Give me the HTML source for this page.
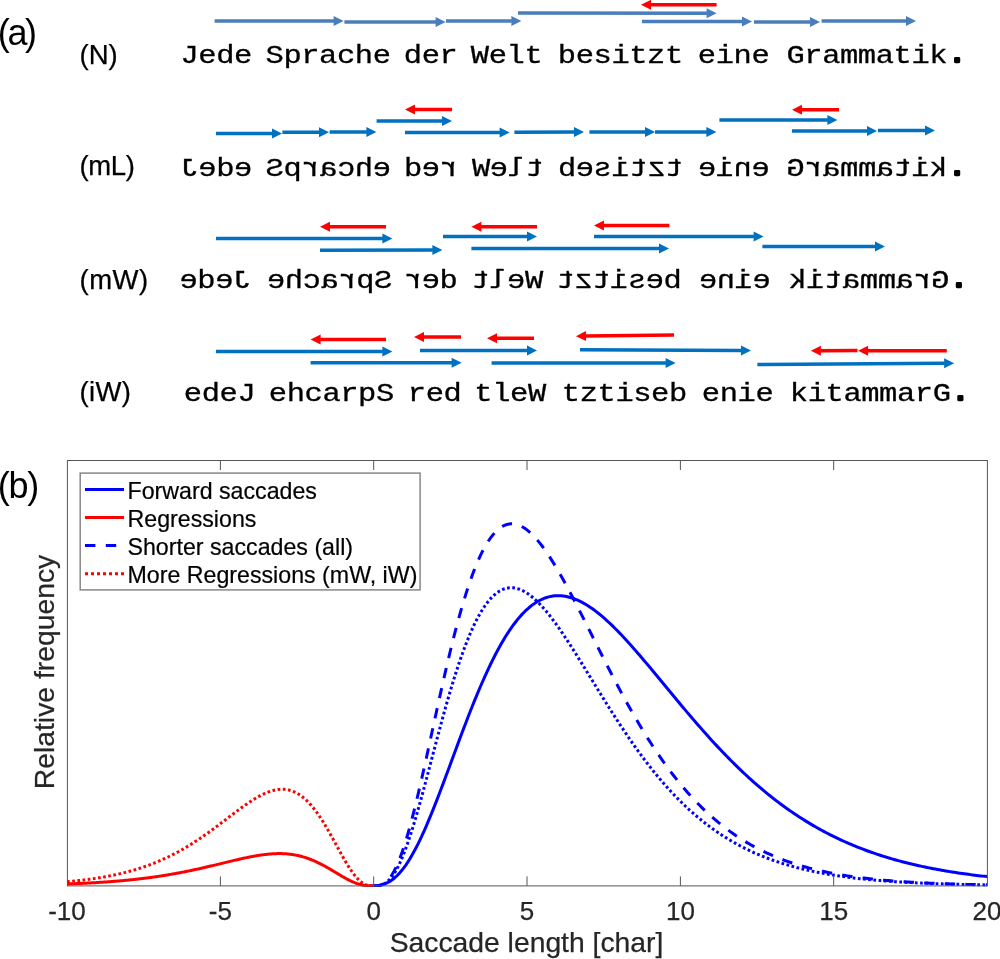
<!DOCTYPE html>
<html><head><meta charset="utf-8"><title>Figure</title>
<style>html,body{margin:0;padding:0;background:#fff;}body{width:1000px;height:959px;overflow:hidden;}svg{display:block;}</style>
</head><body>
<svg width="1000" height="959" viewBox="0 0 1000 959">
<rect width="1000" height="959" fill="#fff"/>
<line x1="214.6" y1="21.0" x2="334.1" y2="21.0" stroke="#4A7EBB" stroke-width="3.5"/><polygon points="343.6,21.0 333.6,26.0 333.6,16.0" fill="#4A7EBB"/>
<line x1="344.4" y1="22.0" x2="436.1" y2="22.0" stroke="#4A7EBB" stroke-width="3.5"/><polygon points="445.6,22.0 435.6,27.0 435.6,17.0" fill="#4A7EBB"/>
<line x1="446.0" y1="21.0" x2="511.9" y2="21.0" stroke="#4A7EBB" stroke-width="3.5"/><polygon points="521.4,21.0 511.4,26.0 511.4,16.0" fill="#4A7EBB"/>
<line x1="518.0" y1="13.0" x2="707.1" y2="13.2" stroke="#4A7EBB" stroke-width="3.5"/><polygon points="716.6,13.2 706.6,18.2 706.6,8.2" fill="#4A7EBB"/>
<line x1="716.6" y1="4.8" x2="650.5" y2="4.8" stroke="#FF0000" stroke-width="3.5"/><polygon points="641.0,4.8 651.0,-0.2 651.0,9.8" fill="#FF0000"/>
<line x1="642.0" y1="21.6" x2="742.5" y2="21.6" stroke="#4A7EBB" stroke-width="3.5"/><polygon points="752.0,21.6 742.0,26.6 742.0,16.6" fill="#4A7EBB"/>
<line x1="754.0" y1="22.0" x2="810.5" y2="22.0" stroke="#4A7EBB" stroke-width="3.5"/><polygon points="820.0,22.0 810.0,27.0 810.0,17.0" fill="#4A7EBB"/>
<line x1="821.6" y1="21.0" x2="906.5" y2="21.0" stroke="#4A7EBB" stroke-width="3.5"/><polygon points="916.0,21.0 906.0,26.0 906.0,16.0" fill="#4A7EBB"/>
<line x1="216.0" y1="133.6" x2="272.5" y2="133.6" stroke="#0070C0" stroke-width="3.5"/><polygon points="282.0,133.6 272.0,138.6 272.0,128.6" fill="#0070C0"/>
<line x1="282.4" y1="132.2" x2="319.5" y2="132.2" stroke="#0070C0" stroke-width="3.5"/><polygon points="329.0,132.2 319.0,137.2 319.0,127.2" fill="#0070C0"/>
<line x1="329.6" y1="132.0" x2="366.9" y2="132.0" stroke="#0070C0" stroke-width="3.5"/><polygon points="376.4,132.0 366.4,137.0 366.4,127.0" fill="#0070C0"/>
<line x1="376.6" y1="121.0" x2="442.5" y2="121.0" stroke="#0070C0" stroke-width="3.5"/><polygon points="452.0,121.0 442.0,126.0 442.0,116.0" fill="#0070C0"/>
<line x1="452.0" y1="109.6" x2="414.5" y2="109.6" stroke="#FF0000" stroke-width="3.5"/><polygon points="405.0,109.6 415.0,104.6 415.0,114.6" fill="#FF0000"/>
<line x1="405.0" y1="132.6" x2="500.1" y2="132.6" stroke="#0070C0" stroke-width="3.5"/><polygon points="509.6,132.6 499.6,137.6 499.6,127.6" fill="#0070C0"/>
<line x1="514.4" y1="132.2" x2="574.5" y2="132.0" stroke="#0070C0" stroke-width="3.5"/><polygon points="584.0,132.0 574.0,137.0 574.0,127.0" fill="#0070C0"/>
<line x1="589.4" y1="132.0" x2="645.5" y2="132.0" stroke="#0070C0" stroke-width="3.5"/><polygon points="655.0,132.0 645.0,137.0 645.0,127.0" fill="#0070C0"/>
<line x1="655.0" y1="132.0" x2="706.9" y2="132.0" stroke="#0070C0" stroke-width="3.5"/><polygon points="716.4,132.0 706.4,137.0 706.4,127.0" fill="#0070C0"/>
<line x1="719.4" y1="120.0" x2="827.9" y2="120.0" stroke="#0070C0" stroke-width="3.5"/><polygon points="837.4,120.0 827.4,125.0 827.4,115.0" fill="#0070C0"/>
<line x1="839.0" y1="109.8" x2="801.5" y2="109.8" stroke="#FF0000" stroke-width="3.5"/><polygon points="792.0,109.8 802.0,104.8 802.0,114.8" fill="#FF0000"/>
<line x1="792.0" y1="131.0" x2="867.5" y2="131.0" stroke="#0070C0" stroke-width="3.5"/><polygon points="877.0,131.0 867.0,136.0 867.0,126.0" fill="#0070C0"/>
<line x1="878.0" y1="130.6" x2="925.5" y2="130.6" stroke="#0070C0" stroke-width="3.5"/><polygon points="935.0,130.6 925.0,135.6 925.0,125.6" fill="#0070C0"/>
<line x1="216.0" y1="238.6" x2="382.9" y2="238.6" stroke="#0070C0" stroke-width="3.5"/><polygon points="392.4,238.6 382.4,243.6 382.4,233.6" fill="#0070C0"/>
<line x1="386.0" y1="226.8" x2="329.5" y2="226.8" stroke="#FF0000" stroke-width="3.5"/><polygon points="320.0,226.8 330.0,221.8 330.0,231.8" fill="#FF0000"/>
<line x1="320.0" y1="250.2" x2="432.9" y2="250.0" stroke="#0070C0" stroke-width="3.5"/><polygon points="442.4,250.0 432.4,255.0 432.4,245.0" fill="#0070C0"/>
<line x1="443.0" y1="236.6" x2="527.5" y2="236.6" stroke="#0070C0" stroke-width="3.5"/><polygon points="537.0,236.6 527.0,241.6 527.0,231.6" fill="#0070C0"/>
<line x1="537.0" y1="226.8" x2="480.9" y2="226.8" stroke="#FF0000" stroke-width="3.5"/><polygon points="471.4,226.8 481.4,221.8 481.4,231.8" fill="#FF0000"/>
<line x1="471.4" y1="248.4" x2="659.5" y2="248.4" stroke="#0070C0" stroke-width="3.5"/><polygon points="669.0,248.4 659.0,253.4 659.0,243.4" fill="#0070C0"/>
<line x1="669.4" y1="225.4" x2="603.5" y2="225.4" stroke="#FF0000" stroke-width="3.5"/><polygon points="594.0,225.4 604.0,220.4 604.0,230.4" fill="#FF0000"/>
<line x1="594.0" y1="236.6" x2="754.1" y2="236.6" stroke="#0070C0" stroke-width="3.5"/><polygon points="763.6,236.6 753.6,241.6 753.6,231.6" fill="#0070C0"/>
<line x1="762.4" y1="246.6" x2="875.5" y2="246.6" stroke="#0070C0" stroke-width="3.5"/><polygon points="885.0,246.6 875.0,251.6 875.0,241.6" fill="#0070C0"/>
<line x1="216.0" y1="351.6" x2="382.9" y2="351.6" stroke="#0070C0" stroke-width="3.5"/><polygon points="392.4,351.6 382.4,356.6 382.4,346.6" fill="#0070C0"/>
<line x1="386.0" y1="339.4" x2="320.1" y2="339.4" stroke="#FF0000" stroke-width="3.5"/><polygon points="310.6,339.4 320.6,334.4 320.6,344.4" fill="#FF0000"/>
<line x1="310.6" y1="362.8" x2="452.1" y2="362.8" stroke="#0070C0" stroke-width="3.5"/><polygon points="461.6,362.8 451.6,367.8 451.6,357.8" fill="#0070C0"/>
<line x1="461.0" y1="337.0" x2="423.5" y2="337.0" stroke="#FF0000" stroke-width="3.5"/><polygon points="414.0,337.0 424.0,332.0 424.0,342.0" fill="#FF0000"/>
<line x1="420.0" y1="350.6" x2="527.5" y2="350.6" stroke="#0070C0" stroke-width="3.5"/><polygon points="537.0,350.6 527.0,355.6 527.0,345.6" fill="#0070C0"/>
<line x1="534.0" y1="338.2" x2="496.5" y2="338.2" stroke="#FF0000" stroke-width="3.5"/><polygon points="487.0,338.2 497.0,333.2 497.0,343.2" fill="#FF0000"/>
<line x1="491.6" y1="363.0" x2="666.1" y2="363.0" stroke="#0070C0" stroke-width="3.5"/><polygon points="675.6,363.0 665.6,368.0 665.6,358.0" fill="#0070C0"/>
<line x1="674.0" y1="335.0" x2="585.5" y2="336.1" stroke="#FF0000" stroke-width="3.5"/><polygon points="576.0,336.2 585.9,331.1 586.1,341.1" fill="#FF0000"/>
<line x1="580.0" y1="349.8" x2="741.5" y2="350.6" stroke="#0070C0" stroke-width="3.5"/><polygon points="751.0,350.6 741.0,355.6 741.0,345.6" fill="#0070C0"/>
<line x1="757.4" y1="364.5" x2="944.6" y2="363.3" stroke="#0070C0" stroke-width="3.5"/><polygon points="954.1,363.2 944.1,368.3 944.1,358.3" fill="#0070C0"/>
<line x1="946.8" y1="350.8" x2="867.6" y2="350.8" stroke="#FF0000" stroke-width="3.5"/><polygon points="858.1,350.8 868.1,345.8 868.1,355.8" fill="#FF0000"/>
<line x1="857.5" y1="350.6" x2="820.4" y2="350.8" stroke="#FF0000" stroke-width="3.5"/><polygon points="810.9,350.8 820.9,345.8 820.9,355.8" fill="#FF0000"/>
<g font-family="Liberation Mono, monospace" font-size="25.8" fill="#000" stroke="#000" stroke-width="0.3"><text x="0" y="0" text-anchor="middle" transform="matrix(1.18,0,0,1,189.60,63.3)">J</text><text x="0" y="0" text-anchor="middle" transform="matrix(1.18,0,0,1,207.45,63.3)">e</text><text x="0" y="0" text-anchor="middle" transform="matrix(1.18,0,0,1,225.30,63.3)">d</text><text x="0" y="0" text-anchor="middle" transform="matrix(1.18,0,0,1,243.15,63.3)">e</text><text x="0" y="0" text-anchor="middle" transform="matrix(1.18,0,0,1,274.70,63.3)">S</text><text x="0" y="0" text-anchor="middle" transform="matrix(1.18,0,0,1,292.55,63.3)">p</text><text x="0" y="0" text-anchor="middle" transform="matrix(1.18,0,0,1,310.40,63.3)">r</text><text x="0" y="0" text-anchor="middle" transform="matrix(1.18,0,0,1,328.25,63.3)">a</text><text x="0" y="0" text-anchor="middle" transform="matrix(1.18,0,0,1,346.10,63.3)">c</text><text x="0" y="0" text-anchor="middle" transform="matrix(1.18,0,0,1,363.95,63.3)">h</text><text x="0" y="0" text-anchor="middle" transform="matrix(1.18,0,0,1,381.80,63.3)">e</text><text x="0" y="0" text-anchor="middle" transform="matrix(1.18,0,0,1,413.00,63.3)">d</text><text x="0" y="0" text-anchor="middle" transform="matrix(1.18,0,0,1,430.85,63.3)">e</text><text x="0" y="0" text-anchor="middle" transform="matrix(1.18,0,0,1,448.70,63.3)">r</text><text x="0" y="0" text-anchor="middle" transform="matrix(1.18,0,0,1,480.00,63.3)">W</text><text x="0" y="0" text-anchor="middle" transform="matrix(1.18,0,0,1,497.85,63.3)">e</text><text x="0" y="0" text-anchor="middle" transform="matrix(1.18,0,0,1,515.70,63.3)">l</text><text x="0" y="0" text-anchor="middle" transform="matrix(1.18,0,0,1,533.55,63.3)">t</text><text x="0" y="0" text-anchor="middle" transform="matrix(1.18,0,0,1,567.00,63.3)">b</text><text x="0" y="0" text-anchor="middle" transform="matrix(1.18,0,0,1,584.85,63.3)">e</text><text x="0" y="0" text-anchor="middle" transform="matrix(1.18,0,0,1,602.70,63.3)">s</text><text x="0" y="0" text-anchor="middle" transform="matrix(1.18,0,0,1,620.55,63.3)">i</text><text x="0" y="0" text-anchor="middle" transform="matrix(1.18,0,0,1,638.40,63.3)">t</text><text x="0" y="0" text-anchor="middle" transform="matrix(1.18,0,0,1,656.25,63.3)">z</text><text x="0" y="0" text-anchor="middle" transform="matrix(1.18,0,0,1,674.10,63.3)">t</text><text x="0" y="0" text-anchor="middle" transform="matrix(1.18,0,0,1,707.00,63.3)">e</text><text x="0" y="0" text-anchor="middle" transform="matrix(1.18,0,0,1,724.85,63.3)">i</text><text x="0" y="0" text-anchor="middle" transform="matrix(1.18,0,0,1,742.70,63.3)">n</text><text x="0" y="0" text-anchor="middle" transform="matrix(1.18,0,0,1,760.55,63.3)">e</text><text x="0" y="0" text-anchor="middle" transform="matrix(1.18,0,0,1,795.60,63.3)">G</text><text x="0" y="0" text-anchor="middle" transform="matrix(1.18,0,0,1,813.45,63.3)">r</text><text x="0" y="0" text-anchor="middle" transform="matrix(1.18,0,0,1,831.30,63.3)">a</text><text x="0" y="0" text-anchor="middle" transform="matrix(1.18,0,0,1,849.15,63.3)">m</text><text x="0" y="0" text-anchor="middle" transform="matrix(1.18,0,0,1,867.00,63.3)">m</text><text x="0" y="0" text-anchor="middle" transform="matrix(1.18,0,0,1,884.85,63.3)">a</text><text x="0" y="0" text-anchor="middle" transform="matrix(1.18,0,0,1,902.70,63.3)">t</text><text x="0" y="0" text-anchor="middle" transform="matrix(1.18,0,0,1,920.55,63.3)">i</text><text x="0" y="0" text-anchor="middle" transform="matrix(1.18,0,0,1,938.40,63.3)">k</text><text x="0" y="0" text-anchor="middle" stroke-width="2.3" stroke-linejoin="round" transform="matrix(1.180,0,0,1.0,957.05,62.10)">.</text></g>
<g font-family="Liberation Mono, monospace" font-size="25.8" fill="#000" stroke="#000" stroke-width="0.3"><text x="0" y="0" text-anchor="middle" transform="matrix(-1.18,0,0,1,189.60,176.0)">J</text><text x="0" y="0" text-anchor="middle" transform="matrix(-1.18,0,0,1,207.45,176.0)">e</text><text x="0" y="0" text-anchor="middle" transform="matrix(-1.18,0,0,1,225.30,176.0)">d</text><text x="0" y="0" text-anchor="middle" transform="matrix(-1.18,0,0,1,243.15,176.0)">e</text><text x="0" y="0" text-anchor="middle" transform="matrix(-1.18,0,0,1,274.70,176.0)">S</text><text x="0" y="0" text-anchor="middle" transform="matrix(-1.18,0,0,1,292.55,176.0)">p</text><text x="0" y="0" text-anchor="middle" transform="matrix(-1.18,0,0,1,310.40,176.0)">r</text><text x="0" y="0" text-anchor="middle" transform="matrix(-1.18,0,0,1,328.25,176.0)">a</text><text x="0" y="0" text-anchor="middle" transform="matrix(-1.18,0,0,1,346.10,176.0)">c</text><text x="0" y="0" text-anchor="middle" transform="matrix(-1.18,0,0,1,363.95,176.0)">h</text><text x="0" y="0" text-anchor="middle" transform="matrix(-1.18,0,0,1,381.80,176.0)">e</text><text x="0" y="0" text-anchor="middle" transform="matrix(-1.18,0,0,1,413.00,176.0)">d</text><text x="0" y="0" text-anchor="middle" transform="matrix(-1.18,0,0,1,430.85,176.0)">e</text><text x="0" y="0" text-anchor="middle" transform="matrix(-1.18,0,0,1,448.70,176.0)">r</text><text x="0" y="0" text-anchor="middle" transform="matrix(-1.18,0,0,1,481.00,176.0)">W</text><text x="0" y="0" text-anchor="middle" transform="matrix(-1.18,0,0,1,498.85,176.0)">e</text><text x="0" y="0" text-anchor="middle" transform="matrix(-1.18,0,0,1,516.70,176.0)">l</text><text x="0" y="0" text-anchor="middle" transform="matrix(-1.18,0,0,1,534.55,176.0)">t</text><text x="0" y="0" text-anchor="middle" transform="matrix(-1.18,0,0,1,567.00,176.0)">b</text><text x="0" y="0" text-anchor="middle" transform="matrix(-1.18,0,0,1,584.85,176.0)">e</text><text x="0" y="0" text-anchor="middle" transform="matrix(-1.18,0,0,1,602.70,176.0)">s</text><text x="0" y="0" text-anchor="middle" transform="matrix(-1.18,0,0,1,620.55,176.0)">i</text><text x="0" y="0" text-anchor="middle" transform="matrix(-1.18,0,0,1,638.40,176.0)">t</text><text x="0" y="0" text-anchor="middle" transform="matrix(-1.18,0,0,1,656.25,176.0)">z</text><text x="0" y="0" text-anchor="middle" transform="matrix(-1.18,0,0,1,674.10,176.0)">t</text><text x="0" y="0" text-anchor="middle" transform="matrix(-1.18,0,0,1,707.00,176.0)">e</text><text x="0" y="0" text-anchor="middle" transform="matrix(-1.18,0,0,1,724.85,176.0)">i</text><text x="0" y="0" text-anchor="middle" transform="matrix(-1.18,0,0,1,742.70,176.0)">n</text><text x="0" y="0" text-anchor="middle" transform="matrix(-1.18,0,0,1,760.55,176.0)">e</text><text x="0" y="0" text-anchor="middle" transform="matrix(-1.18,0,0,1,795.60,176.0)">G</text><text x="0" y="0" text-anchor="middle" transform="matrix(-1.18,0,0,1,813.45,176.0)">r</text><text x="0" y="0" text-anchor="middle" transform="matrix(-1.18,0,0,1,831.30,176.0)">a</text><text x="0" y="0" text-anchor="middle" transform="matrix(-1.18,0,0,1,849.15,176.0)">m</text><text x="0" y="0" text-anchor="middle" transform="matrix(-1.18,0,0,1,867.00,176.0)">m</text><text x="0" y="0" text-anchor="middle" transform="matrix(-1.18,0,0,1,884.85,176.0)">a</text><text x="0" y="0" text-anchor="middle" transform="matrix(-1.18,0,0,1,902.70,176.0)">t</text><text x="0" y="0" text-anchor="middle" transform="matrix(-1.18,0,0,1,920.55,176.0)">i</text><text x="0" y="0" text-anchor="middle" transform="matrix(-1.18,0,0,1,938.40,176.0)">k</text><text x="0" y="0" text-anchor="middle" stroke-width="2.3" stroke-linejoin="round" transform="matrix(1.180,0,0,1.0,957.05,174.80)">.</text></g>
<g font-family="Liberation Mono, monospace" font-size="25.8" fill="#000" stroke="#000" stroke-width="0.3"><text x="0" y="0" text-anchor="middle" transform="matrix(-1.18,0,0,1,188.60,287.7)">e</text><text x="0" y="0" text-anchor="middle" transform="matrix(-1.18,0,0,1,206.45,287.7)">d</text><text x="0" y="0" text-anchor="middle" transform="matrix(-1.18,0,0,1,224.30,287.7)">e</text><text x="0" y="0" text-anchor="middle" transform="matrix(-1.18,0,0,1,242.15,287.7)">J</text><text x="0" y="0" text-anchor="middle" transform="matrix(-1.18,0,0,1,276.00,287.7)">e</text><text x="0" y="0" text-anchor="middle" transform="matrix(-1.18,0,0,1,293.85,287.7)">h</text><text x="0" y="0" text-anchor="middle" transform="matrix(-1.18,0,0,1,311.70,287.7)">c</text><text x="0" y="0" text-anchor="middle" transform="matrix(-1.18,0,0,1,329.55,287.7)">a</text><text x="0" y="0" text-anchor="middle" transform="matrix(-1.18,0,0,1,347.40,287.7)">r</text><text x="0" y="0" text-anchor="middle" transform="matrix(-1.18,0,0,1,365.25,287.7)">p</text><text x="0" y="0" text-anchor="middle" transform="matrix(-1.18,0,0,1,383.10,287.7)">S</text><text x="0" y="0" text-anchor="middle" transform="matrix(-1.18,0,0,1,413.00,287.7)">r</text><text x="0" y="0" text-anchor="middle" transform="matrix(-1.18,0,0,1,430.85,287.7)">e</text><text x="0" y="0" text-anchor="middle" transform="matrix(-1.18,0,0,1,448.70,287.7)">d</text><text x="0" y="0" text-anchor="middle" transform="matrix(-1.18,0,0,1,480.50,287.7)">t</text><text x="0" y="0" text-anchor="middle" transform="matrix(-1.18,0,0,1,498.35,287.7)">l</text><text x="0" y="0" text-anchor="middle" transform="matrix(-1.18,0,0,1,516.20,287.7)">e</text><text x="0" y="0" text-anchor="middle" transform="matrix(-1.18,0,0,1,534.05,287.7)">W</text><text x="0" y="0" text-anchor="middle" transform="matrix(-1.18,0,0,1,565.60,287.7)">t</text><text x="0" y="0" text-anchor="middle" transform="matrix(-1.18,0,0,1,583.45,287.7)">z</text><text x="0" y="0" text-anchor="middle" transform="matrix(-1.18,0,0,1,601.30,287.7)">t</text><text x="0" y="0" text-anchor="middle" transform="matrix(-1.18,0,0,1,619.15,287.7)">i</text><text x="0" y="0" text-anchor="middle" transform="matrix(-1.18,0,0,1,637.00,287.7)">s</text><text x="0" y="0" text-anchor="middle" transform="matrix(-1.18,0,0,1,654.85,287.7)">e</text><text x="0" y="0" text-anchor="middle" transform="matrix(-1.18,0,0,1,672.70,287.7)">b</text><text x="0" y="0" text-anchor="middle" transform="matrix(-1.18,0,0,1,708.00,287.7)">e</text><text x="0" y="0" text-anchor="middle" transform="matrix(-1.18,0,0,1,725.85,287.7)">n</text><text x="0" y="0" text-anchor="middle" transform="matrix(-1.18,0,0,1,743.70,287.7)">i</text><text x="0" y="0" text-anchor="middle" transform="matrix(-1.18,0,0,1,761.55,287.7)">e</text><text x="0" y="0" text-anchor="middle" transform="matrix(-1.18,0,0,1,797.50,287.7)">k</text><text x="0" y="0" text-anchor="middle" transform="matrix(-1.18,0,0,1,815.35,287.7)">i</text><text x="0" y="0" text-anchor="middle" transform="matrix(-1.18,0,0,1,833.20,287.7)">t</text><text x="0" y="0" text-anchor="middle" transform="matrix(-1.18,0,0,1,851.05,287.7)">a</text><text x="0" y="0" text-anchor="middle" transform="matrix(-1.18,0,0,1,868.90,287.7)">m</text><text x="0" y="0" text-anchor="middle" transform="matrix(-1.18,0,0,1,886.75,287.7)">m</text><text x="0" y="0" text-anchor="middle" transform="matrix(-1.18,0,0,1,904.60,287.7)">a</text><text x="0" y="0" text-anchor="middle" transform="matrix(-1.18,0,0,1,922.45,287.7)">r</text><text x="0" y="0" text-anchor="middle" transform="matrix(-1.18,0,0,1,940.30,287.7)">G</text><text x="0" y="0" text-anchor="middle" stroke-width="2.3" stroke-linejoin="round" transform="matrix(1.180,0,0,1.0,958.95,286.50)">.</text></g>
<g font-family="Liberation Mono, monospace" font-size="25.8" fill="#000" stroke="#000" stroke-width="0.3"><text x="0" y="0" text-anchor="middle" transform="matrix(1.18,0,0,1,193.00,401.0)">e</text><text x="0" y="0" text-anchor="middle" transform="matrix(1.18,0,0,1,210.85,401.0)">d</text><text x="0" y="0" text-anchor="middle" transform="matrix(1.18,0,0,1,228.70,401.0)">e</text><text x="0" y="0" text-anchor="middle" transform="matrix(1.18,0,0,1,246.55,401.0)">J</text><text x="0" y="0" text-anchor="middle" transform="matrix(1.18,0,0,1,278.00,401.0)">e</text><text x="0" y="0" text-anchor="middle" transform="matrix(1.18,0,0,1,295.85,401.0)">h</text><text x="0" y="0" text-anchor="middle" transform="matrix(1.18,0,0,1,313.70,401.0)">c</text><text x="0" y="0" text-anchor="middle" transform="matrix(1.18,0,0,1,331.55,401.0)">a</text><text x="0" y="0" text-anchor="middle" transform="matrix(1.18,0,0,1,349.40,401.0)">r</text><text x="0" y="0" text-anchor="middle" transform="matrix(1.18,0,0,1,367.25,401.0)">p</text><text x="0" y="0" text-anchor="middle" transform="matrix(1.18,0,0,1,385.10,401.0)">S</text><text x="0" y="0" text-anchor="middle" transform="matrix(1.18,0,0,1,417.00,401.0)">r</text><text x="0" y="0" text-anchor="middle" transform="matrix(1.18,0,0,1,434.85,401.0)">e</text><text x="0" y="0" text-anchor="middle" transform="matrix(1.18,0,0,1,452.70,401.0)">d</text><text x="0" y="0" text-anchor="middle" transform="matrix(1.18,0,0,1,483.50,401.0)">t</text><text x="0" y="0" text-anchor="middle" transform="matrix(1.18,0,0,1,501.35,401.0)">l</text><text x="0" y="0" text-anchor="middle" transform="matrix(1.18,0,0,1,519.20,401.0)">e</text><text x="0" y="0" text-anchor="middle" transform="matrix(1.18,0,0,1,537.05,401.0)">W</text><text x="0" y="0" text-anchor="middle" transform="matrix(1.18,0,0,1,571.00,401.0)">t</text><text x="0" y="0" text-anchor="middle" transform="matrix(1.18,0,0,1,588.85,401.0)">z</text><text x="0" y="0" text-anchor="middle" transform="matrix(1.18,0,0,1,606.70,401.0)">t</text><text x="0" y="0" text-anchor="middle" transform="matrix(1.18,0,0,1,624.55,401.0)">i</text><text x="0" y="0" text-anchor="middle" transform="matrix(1.18,0,0,1,642.40,401.0)">s</text><text x="0" y="0" text-anchor="middle" transform="matrix(1.18,0,0,1,660.25,401.0)">e</text><text x="0" y="0" text-anchor="middle" transform="matrix(1.18,0,0,1,678.10,401.0)">b</text><text x="0" y="0" text-anchor="middle" transform="matrix(1.18,0,0,1,711.00,401.0)">e</text><text x="0" y="0" text-anchor="middle" transform="matrix(1.18,0,0,1,728.85,401.0)">n</text><text x="0" y="0" text-anchor="middle" transform="matrix(1.18,0,0,1,746.70,401.0)">i</text><text x="0" y="0" text-anchor="middle" transform="matrix(1.18,0,0,1,764.55,401.0)">e</text><text x="0" y="0" text-anchor="middle" transform="matrix(1.18,0,0,1,799.00,401.0)">k</text><text x="0" y="0" text-anchor="middle" transform="matrix(1.18,0,0,1,816.85,401.0)">i</text><text x="0" y="0" text-anchor="middle" transform="matrix(1.18,0,0,1,834.70,401.0)">t</text><text x="0" y="0" text-anchor="middle" transform="matrix(1.18,0,0,1,852.55,401.0)">a</text><text x="0" y="0" text-anchor="middle" transform="matrix(1.18,0,0,1,870.40,401.0)">m</text><text x="0" y="0" text-anchor="middle" transform="matrix(1.18,0,0,1,888.25,401.0)">m</text><text x="0" y="0" text-anchor="middle" transform="matrix(1.18,0,0,1,906.10,401.0)">a</text><text x="0" y="0" text-anchor="middle" transform="matrix(1.18,0,0,1,923.95,401.0)">r</text><text x="0" y="0" text-anchor="middle" transform="matrix(1.18,0,0,1,941.80,401.0)">G</text><text x="0" y="0" text-anchor="middle" stroke-width="2.3" stroke-linejoin="round" transform="matrix(1.180,0,0,1.0,960.45,399.80)">.</text></g>
<text x="79.5" y="64.1" font-family="Liberation Sans, Arial, sans-serif" font-size="27.5" letter-spacing="0" fill="#000" stroke="#000" stroke-width="0.25">(N)</text>
<text x="79.5" y="175.4" font-family="Liberation Sans, Arial, sans-serif" font-size="27.5" letter-spacing="-0.4" fill="#000" stroke="#000" stroke-width="0.25">(mL)</text>
<text x="79.5" y="289.0" font-family="Liberation Sans, Arial, sans-serif" font-size="27.5" letter-spacing="0.5" fill="#000" stroke="#000" stroke-width="0.25">(mW)</text>
<text x="79.5" y="401.0" font-family="Liberation Sans, Arial, sans-serif" font-size="27.5" letter-spacing="0.35" fill="#000" stroke="#000" stroke-width="0.25">(iW)</text>
<text x="-2.2" y="44.5" font-family="Liberation Sans, Arial, sans-serif" font-size="36" letter-spacing="-2.4" fill="#000">(a)</text>
<text x="-2.2" y="497.5" font-family="Liberation Sans, Arial, sans-serif" font-size="36" letter-spacing="-1.3" fill="#000">(b)</text>
<defs><clipPath id="ax"><rect x="67" y="455" width="921" height="432"/></clipPath></defs>
<g clip-path="url(#ax)"><path d="M368.79,885.90 L370.86,885.90 L372.93,885.87 L375.00,885.78 L377.06,885.61 L379.13,885.34 L381.20,884.93 L383.27,884.37 L385.33,883.64 L387.40,882.72 L389.47,881.60 L391.54,880.28 L393.61,878.74 L395.67,876.98 L397.74,874.99 L399.81,872.78 L401.88,870.34 L403.94,867.67 L406.01,864.78 L408.08,861.67 L410.15,858.35 L412.22,854.83 L414.28,851.10 L416.35,847.18 L418.42,843.08 L420.49,838.80 L422.55,834.37 L424.62,829.78 L426.69,825.04 L428.76,820.18 L430.82,815.19 L432.89,810.09 L434.96,804.90 L437.03,799.62 L439.10,794.26 L441.16,788.83 L443.23,783.35 L445.30,777.83 L447.37,772.28 L449.43,766.70 L451.50,761.11 L453.57,755.52 L455.64,749.94 L457.71,744.37 L459.77,738.83 L461.84,733.32 L463.91,727.85 L465.98,722.44 L468.04,717.08 L470.11,711.78 L472.18,706.56 L474.25,701.42 L476.31,696.36 L478.38,691.39 L480.45,686.52 L482.52,681.75 L484.59,677.08 L486.65,672.53 L488.72,668.08 L490.79,663.76 L492.86,659.56 L494.92,655.48 L496.99,651.53 L499.06,647.70 L501.13,644.01 L503.19,640.45 L505.26,637.03 L507.33,633.75 L509.40,630.60 L511.47,627.59 L513.53,624.72 L515.60,621.99 L517.67,619.40 L519.74,616.95 L521.80,614.64 L523.87,612.46 L525.94,610.43 L528.01,608.53 L530.08,606.77 L532.14,605.15 L534.21,603.66 L536.28,602.30 L538.35,601.08 L540.41,599.98 L542.48,599.02 L544.55,598.18 L546.62,597.46 L548.68,596.87 L550.75,596.40 L552.82,596.04 L554.89,595.81 L556.96,595.68 L559.02,595.67 L561.09,595.77 L563.16,595.97 L565.23,596.28 L567.29,596.69 L569.36,597.20 L571.43,597.80 L573.50,598.50 L575.56,599.29 L577.63,600.17 L579.70,601.13 L581.77,602.18 L583.84,603.31 L585.90,604.52 L587.97,605.80 L590.04,607.16 L592.11,608.59 L594.17,610.08 L596.24,611.64 L598.31,613.27 L600.38,614.95 L602.45,616.69 L604.51,618.49 L606.58,620.34 L608.65,622.24 L610.72,624.19 L612.78,626.19 L614.85,628.22 L616.92,630.30 L618.99,632.42 L621.05,634.58 L623.12,636.77 L625.19,639.00 L627.26,641.25 L629.33,643.53 L631.39,645.85 L633.46,648.18 L635.53,650.54 L637.60,652.92 L639.66,655.32 L641.73,657.73 L643.80,660.17 L645.87,662.61 L647.93,665.07 L650.00,667.54 L652.07,670.02 L654.14,672.51 L656.21,675.00 L658.27,677.50 L660.34,680.01 L662.41,682.51 L664.48,685.02 L666.54,687.53 L668.61,690.03 L670.68,692.54 L672.75,695.04 L674.82,697.53 L676.88,700.02 L678.95,702.51 L681.02,704.98 L683.09,707.45 L685.15,709.91 L687.22,712.35 L689.29,714.79 L691.36,717.21 L693.42,719.62 L695.49,722.02 L697.56,724.41 L699.63,726.78 L701.70,729.13 L703.76,731.47 L705.83,733.79 L707.90,736.10 L709.97,738.39 L712.03,740.66 L714.10,742.91 L716.17,745.14 L718.24,747.35 L720.30,749.55 L722.37,751.72 L724.44,753.87 L726.51,756.01 L728.58,758.12 L730.64,760.21 L732.71,762.28 L734.78,764.33 L736.85,766.35 L738.91,768.36 L740.98,770.34 L743.05,772.30 L745.12,774.24 L747.19,776.15 L749.25,778.04 L751.32,779.91 L753.39,781.76 L755.46,783.58 L757.52,785.38 L759.59,787.16 L761.66,788.92 L763.73,790.65 L765.79,792.36 L767.86,794.05 L769.93,795.71 L772.00,797.36 L774.07,798.97 L776.13,800.57 L778.20,802.15 L780.27,803.70 L782.34,805.23 L784.40,806.73 L786.47,808.22 L788.54,809.68 L790.61,811.12 L792.67,812.54 L794.74,813.94 L796.81,815.32 L798.88,816.68 L800.95,818.01 L803.01,819.33 L805.08,820.62 L807.15,821.89 L809.22,823.14 L811.28,824.38 L813.35,825.59 L815.42,826.78 L817.49,827.95 L819.56,829.11 L821.62,830.24 L823.69,831.35 L825.76,832.45 L827.83,833.53 L829.89,834.59 L831.96,835.63 L834.03,836.65 L836.10,837.66 L838.16,838.64 L840.23,839.61 L842.30,840.57 L844.37,841.50 L846.44,842.42 L848.50,843.33 L850.57,844.21 L852.64,845.08 L854.71,845.94 L856.77,846.78 L858.84,847.60 L860.91,848.41 L862.98,849.20 L865.04,849.98 L867.11,850.75 L869.18,851.50 L871.25,852.23 L873.32,852.95 L875.38,853.66 L877.45,854.35 L879.52,855.04 L881.59,855.70 L883.65,856.36 L885.72,857.00 L887.79,857.63 L889.86,858.25 L891.93,858.85 L893.99,859.45 L896.06,860.03 L898.13,860.60 L900.20,861.16 L902.26,861.70 L904.33,862.24 L906.40,862.77 L908.47,863.28 L910.53,863.79 L912.60,864.28 L914.67,864.76 L916.74,865.24 L918.81,865.70 L920.87,866.16 L922.94,866.60 L925.01,867.04 L927.08,867.47 L929.14,867.89 L931.21,868.30 L933.28,868.70 L935.35,869.09 L937.41,869.48 L939.48,869.85 L941.55,870.22 L943.62,870.58 L945.69,870.93 L947.75,871.28 L949.82,871.62 L951.89,871.95 L953.96,872.27 L956.02,872.59 L958.09,872.90 L960.16,873.20 L962.23,873.50 L964.30,873.79 L966.36,874.07 L968.43,874.35 L970.50,874.62 L972.57,874.89 L974.63,875.15 L976.70,875.40 L978.77,875.65 L980.84,875.89 L982.90,876.13 L984.97,876.36 L987.04,876.59" fill="none" stroke="#0000FF" stroke-width="3" /><path d="M373.70,885.90 L375.75,885.88 L377.80,885.73 L379.85,885.36 L381.91,884.67 L383.96,883.59 L386.01,882.06 L388.06,880.05 L390.11,877.52 L392.16,874.47 L394.21,870.88 L396.26,866.74 L398.32,862.08 L400.37,856.90 L402.42,851.22 L404.47,845.06 L406.52,838.45 L408.57,831.43 L410.62,824.01 L412.67,816.24 L414.73,808.15 L416.78,799.77 L418.83,791.14 L420.88,782.30 L422.93,773.27 L424.98,764.10 L427.03,754.82 L429.09,745.46 L431.14,736.05 L433.19,726.63 L435.24,717.23 L437.29,707.86 L439.34,698.57 L441.39,689.37 L443.44,680.29 L445.50,671.36 L447.55,662.58 L449.60,653.98 L451.65,645.59 L453.70,637.41 L455.75,629.46 L457.80,621.76 L459.85,614.31 L461.91,607.12 L463.96,600.22 L466.01,593.59 L468.06,587.26 L470.11,581.23 L472.16,575.50 L474.21,570.07 L476.27,564.95 L478.32,560.14 L480.37,555.64 L482.42,551.45 L484.47,547.57 L486.52,544.00 L488.57,540.74 L490.62,537.77 L492.68,535.11 L494.73,532.74 L496.78,530.67 L498.83,528.88 L500.88,527.37 L502.93,526.13 L504.98,525.17 L507.03,524.47 L509.09,524.02 L511.14,523.82 L513.19,523.87 L515.24,524.15 L517.29,524.66 L519.34,525.38 L521.39,526.33 L523.45,527.47 L525.50,528.82 L527.55,530.35 L529.60,532.07 L531.65,533.96 L533.70,536.01 L535.75,538.23 L537.80,540.60 L539.86,543.11 L541.91,545.77 L543.96,548.55 L546.01,551.45 L548.06,554.47 L550.11,557.60 L552.16,560.83 L554.21,564.16 L556.27,567.57 L558.32,571.07 L560.37,574.65 L562.42,578.29 L564.47,582.00 L566.52,585.77 L568.57,589.60 L570.63,593.47 L572.68,597.38 L574.73,601.34 L576.78,605.32 L578.83,609.34 L580.88,613.38 L582.93,617.44 L584.98,621.51 L587.04,625.60 L589.09,629.69 L591.14,633.79 L593.19,637.89 L595.24,641.98 L597.29,646.07 L599.34,650.15 L601.39,654.22 L603.45,658.27 L605.50,662.31 L607.55,666.32 L609.60,670.31 L611.65,674.28 L613.70,678.22 L615.75,682.13 L617.81,686.01 L619.86,689.86 L621.91,693.68 L623.96,697.46 L626.01,701.20 L628.06,704.90 L630.11,708.56 L632.16,712.18 L634.22,715.76 L636.27,719.30 L638.32,722.79 L640.37,726.24 L642.42,729.64 L644.47,733.00 L646.52,736.31 L648.57,739.58 L650.63,742.79 L652.68,745.96 L654.73,749.08 L656.78,752.15 L658.83,755.17 L660.88,758.15 L662.93,761.08 L664.99,763.95 L667.04,766.78 L669.09,769.56 L671.14,772.29 L673.19,774.97 L675.24,777.61 L677.29,780.20 L679.34,782.73 L681.40,785.23 L683.45,787.67 L685.50,790.07 L687.55,792.42 L689.60,794.72 L691.65,796.98 L693.70,799.20 L695.75,801.36 L697.81,803.49 L699.86,805.57 L701.91,807.61 L703.96,809.60 L706.01,811.55 L708.06,813.46 L710.11,815.33 L712.17,817.16 L714.22,818.95 L716.27,820.70 L718.32,822.41 L720.37,824.08 L722.42,825.72 L724.47,827.31 L726.52,828.87 L728.58,830.40 L730.63,831.89 L732.68,833.34 L734.73,834.76 L736.78,836.15 L738.83,837.50 L740.88,838.82 L742.93,840.11 L744.99,841.37 L747.04,842.60 L749.09,843.79 L751.14,844.96 L753.19,846.10 L755.24,847.21 L757.29,848.29 L759.35,849.35 L761.40,850.38 L763.45,851.38 L765.50,852.36 L767.55,853.31 L769.60,854.24 L771.65,855.14 L773.70,856.02 L775.76,856.88 L777.81,857.71 L779.86,858.53 L781.91,859.32 L783.96,860.09 L786.01,860.84 L788.06,861.57 L790.11,862.28 L792.17,862.97 L794.22,863.64 L796.27,864.30 L798.32,864.93 L800.37,865.55 L802.42,866.16 L804.47,866.74 L806.53,867.31 L808.58,867.87 L810.63,868.40 L812.68,868.93 L814.73,869.44 L816.78,869.93 L818.83,870.41 L820.88,870.88 L822.94,871.33 L824.99,871.78 L827.04,872.20 L829.09,872.62 L831.14,873.03 L833.19,873.42 L835.24,873.80 L837.29,874.17 L839.35,874.53 L841.40,874.88 L843.45,875.22 L845.50,875.55 L847.55,875.87 L849.60,876.18 L851.65,876.48 L853.71,876.77 L855.76,877.06 L857.81,877.33 L859.86,877.60 L861.91,877.86 L863.96,878.11 L866.01,878.36 L868.06,878.59 L870.12,878.82 L872.17,879.05 L874.22,879.26 L876.27,879.47 L878.32,879.68 L880.37,879.87 L882.42,880.07 L884.47,880.25 L886.53,880.43 L888.58,880.61 L890.63,880.78 L892.68,880.94 L894.73,881.10 L896.78,881.25 L898.83,881.40 L900.89,881.55 L902.94,881.69 L904.99,881.82 L907.04,881.95 L909.09,882.08 L911.14,882.21 L913.19,882.33 L915.24,882.44 L917.30,882.55 L919.35,882.66 L921.40,882.77 L923.45,882.87 L925.50,882.97 L927.55,883.06 L929.60,883.16 L931.65,883.25 L933.71,883.33 L935.76,883.42 L937.81,883.50 L939.86,883.58 L941.91,883.66 L943.96,883.73 L946.01,883.80 L948.07,883.87 L950.12,883.94 L952.17,884.00 L954.22,884.07 L956.27,884.13 L958.32,884.19 L960.37,884.24 L962.42,884.30 L964.48,884.35 L966.53,884.40 L968.58,884.45 L970.63,884.50 L972.68,884.55 L974.73,884.59 L976.78,884.64 L978.83,884.68 L980.89,884.72 L982.94,884.76 L984.99,884.80 L987.04,884.84" fill="none" stroke="#0000FF" stroke-width="3" stroke-dasharray="10.4 10.2"/><path d="M373.70,885.90 L375.75,885.88 L377.80,885.77 L379.85,885.47 L381.91,884.90 L383.96,884.01 L386.01,882.75 L388.06,881.09 L390.11,878.99 L392.16,876.45 L394.21,873.46 L396.26,870.01 L398.32,866.12 L400.37,861.80 L402.42,857.05 L404.47,851.91 L406.52,846.40 L408.57,840.54 L410.62,834.35 L412.67,827.87 L414.73,821.12 L416.78,814.14 L418.83,806.95 L420.88,799.59 L422.93,792.09 L424.98,784.46 L427.03,776.75 L429.09,768.98 L431.14,761.18 L433.19,753.37 L435.24,745.58 L437.29,737.84 L439.34,730.15 L441.39,722.55 L443.44,715.06 L445.50,707.68 L447.55,700.45 L449.60,693.38 L451.65,686.47 L453.70,679.75 L455.75,673.22 L457.80,666.90 L459.85,660.79 L461.91,654.91 L463.96,649.27 L466.01,643.86 L468.06,638.69 L470.11,633.77 L472.16,629.11 L474.21,624.69 L476.27,620.54 L478.32,616.64 L480.37,612.99 L482.42,609.61 L484.47,606.48 L486.52,603.61 L488.57,600.98 L490.62,598.61 L492.68,596.48 L494.73,594.60 L496.78,592.96 L498.83,591.55 L500.88,590.37 L502.93,589.41 L504.98,588.68 L507.03,588.16 L509.09,587.85 L511.14,587.74 L513.19,587.83 L515.24,588.12 L517.29,588.58 L519.34,589.23 L521.39,590.05 L523.45,591.03 L525.50,592.18 L527.55,593.48 L529.60,594.92 L531.65,596.51 L533.70,598.23 L535.75,600.08 L537.80,602.06 L539.86,604.15 L541.91,606.35 L543.96,608.65 L546.01,611.06 L548.06,613.55 L550.11,616.14 L552.16,618.80 L554.21,621.54 L556.27,624.36 L558.32,627.24 L560.37,630.18 L562.42,633.17 L564.47,636.22 L566.52,639.31 L568.57,642.45 L570.63,645.63 L572.68,648.84 L574.73,652.07 L576.78,655.34 L578.83,658.63 L580.88,661.93 L582.93,665.25 L584.98,668.59 L587.04,671.93 L589.09,675.27 L591.14,678.62 L593.19,681.97 L595.24,685.32 L597.29,688.66 L599.34,691.99 L601.39,695.31 L603.45,698.62 L605.50,701.91 L607.55,705.19 L609.60,708.45 L611.65,711.69 L613.70,714.90 L615.75,718.09 L617.81,721.26 L619.86,724.40 L621.91,727.51 L623.96,730.59 L626.01,733.64 L628.06,736.66 L630.11,739.65 L632.16,742.61 L634.22,745.53 L636.27,748.41 L638.32,751.26 L640.37,754.07 L642.42,756.85 L644.47,759.59 L646.52,762.29 L648.57,764.95 L650.63,767.58 L652.68,770.17 L654.73,772.71 L656.78,775.22 L658.83,777.69 L660.88,780.12 L662.93,782.51 L664.99,784.86 L667.04,787.17 L669.09,789.44 L671.14,791.67 L673.19,793.87 L675.24,796.02 L677.29,798.14 L679.34,800.21 L681.40,802.25 L683.45,804.25 L685.50,806.21 L687.55,808.14 L689.60,810.03 L691.65,811.88 L693.70,813.69 L695.75,815.47 L697.81,817.21 L699.86,818.92 L701.91,820.59 L703.96,822.22 L706.01,823.83 L708.06,825.40 L710.11,826.93 L712.17,828.43 L714.22,829.90 L716.27,831.34 L718.32,832.75 L720.37,834.12 L722.42,835.47 L724.47,836.78 L726.52,838.07 L728.58,839.32 L730.63,840.55 L732.68,841.75 L734.73,842.92 L736.78,844.06 L738.83,845.18 L740.88,846.27 L742.93,847.33 L744.99,848.37 L747.04,849.39 L749.09,850.38 L751.14,851.34 L753.19,852.29 L755.24,853.21 L757.29,854.10 L759.35,854.98 L761.40,855.83 L763.45,856.66 L765.50,857.48 L767.55,858.27 L769.60,859.04 L771.65,859.79 L773.70,860.52 L775.76,861.23 L777.81,861.93 L779.86,862.61 L781.91,863.26 L783.96,863.91 L786.01,864.53 L788.06,865.14 L790.11,865.74 L792.17,866.31 L794.22,866.88 L796.27,867.42 L798.32,867.96 L800.37,868.47 L802.42,868.98 L804.47,869.47 L806.53,869.95 L808.58,870.41 L810.63,870.87 L812.68,871.31 L814.73,871.73 L816.78,872.15 L818.83,872.55 L820.88,872.95 L822.94,873.33 L824.99,873.70 L827.04,874.06 L829.09,874.42 L831.14,874.76 L833.19,875.09 L835.24,875.41 L837.29,875.73 L839.35,876.03 L841.40,876.33 L843.45,876.62 L845.50,876.90 L847.55,877.17 L849.60,877.43 L851.65,877.69 L853.71,877.94 L855.76,878.18 L857.81,878.41 L859.86,878.64 L861.91,878.86 L863.96,879.08 L866.01,879.29 L868.06,879.49 L870.12,879.69 L872.17,879.88 L874.22,880.06 L876.27,880.24 L878.32,880.42 L880.37,880.59 L882.42,880.75 L884.47,880.91 L886.53,881.07 L888.58,881.22 L890.63,881.36 L892.68,881.50 L894.73,881.64 L896.78,881.78 L898.83,881.90 L900.89,882.03 L902.94,882.15 L904.99,882.27 L907.04,882.38 L909.09,882.49 L911.14,882.60 L913.19,882.71 L915.24,882.81 L917.30,882.90 L919.35,883.00 L921.40,883.09 L923.45,883.18 L925.50,883.27 L927.55,883.35 L929.60,883.43 L931.65,883.51 L933.71,883.59 L935.76,883.66 L937.81,883.73 L939.86,883.80 L941.91,883.87 L943.96,883.93 L946.01,884.00 L948.07,884.06 L950.12,884.12 L952.17,884.18 L954.22,884.23 L956.27,884.29 L958.32,884.34 L960.37,884.39 L962.42,884.44 L964.48,884.48 L966.53,884.53 L968.58,884.57 L970.63,884.62 L972.68,884.66 L974.73,884.70 L976.78,884.74 L978.83,884.78 L980.89,884.81 L982.94,884.85 L984.99,884.88 L987.04,884.92" fill="none" stroke="#0000FF" stroke-width="3" stroke-dasharray="2.7 2.5"/><path d="M67.03,883.98 L68.06,883.94 L69.08,883.90 L70.11,883.86 L71.13,883.82 L72.16,883.78 L73.18,883.74 L74.21,883.70 L75.24,883.66 L76.26,883.61 L77.29,883.57 L78.31,883.53 L79.34,883.48 L80.36,883.43 L81.39,883.39 L82.41,883.34 L83.44,883.29 L84.47,883.24 L85.49,883.19 L86.52,883.13 L87.54,883.08 L88.57,883.03 L89.59,882.97 L90.62,882.92 L91.65,882.86 L92.67,882.80 L93.70,882.75 L94.72,882.69 L95.75,882.63 L96.77,882.56 L97.80,882.50 L98.83,882.44 L99.85,882.37 L100.88,882.31 L101.90,882.24 L102.93,882.17 L103.95,882.10 L104.98,882.03 L106.00,881.96 L107.03,881.89 L108.06,881.81 L109.08,881.74 L110.11,881.66 L111.13,881.58 L112.16,881.50 L113.18,881.42 L114.21,881.34 L115.24,881.26 L116.26,881.18 L117.29,881.09 L118.31,881.00 L119.34,880.91 L120.36,880.82 L121.39,880.73 L122.42,880.64 L123.44,880.55 L124.47,880.45 L125.49,880.35 L126.52,880.26 L127.54,880.16 L128.57,880.05 L129.59,879.95 L130.62,879.85 L131.65,879.74 L132.67,879.63 L133.70,879.52 L134.72,879.41 L135.75,879.30 L136.77,879.19 L137.80,879.07 L138.83,878.95 L139.85,878.83 L140.88,878.71 L141.90,878.59 L142.93,878.46 L143.95,878.34 L144.98,878.21 L146.01,878.08 L147.03,877.95 L148.06,877.81 L149.08,877.68 L150.11,877.54 L151.13,877.40 L152.16,877.26 L153.18,877.12 L154.21,876.97 L155.24,876.83 L156.26,876.68 L157.29,876.53 L158.31,876.38 L159.34,876.22 L160.36,876.06 L161.39,875.91 L162.42,875.75 L163.44,875.58 L164.47,875.42 L165.49,875.25 L166.52,875.09 L167.54,874.92 L168.57,874.74 L169.60,874.57 L170.62,874.39 L171.65,874.22 L172.67,874.04 L173.70,873.85 L174.72,873.67 L175.75,873.48 L176.77,873.29 L177.80,873.10 L178.83,872.91 L179.85,872.72 L180.88,872.52 L181.90,872.32 L182.93,872.12 L183.95,871.92 L184.98,871.72 L186.01,871.51 L187.03,871.31 L188.06,871.10 L189.08,870.89 L190.11,870.67 L191.13,870.46 L192.16,870.24 L193.19,870.02 L194.21,869.80 L195.24,869.58 L196.26,869.36 L197.29,869.13 L198.31,868.91 L199.34,868.68 L200.36,868.45 L201.39,868.22 L202.42,867.98 L203.44,867.75 L204.47,867.51 L205.49,867.28 L206.52,867.04 L207.54,866.80 L208.57,866.56 L209.60,866.32 L210.62,866.08 L211.65,865.83 L212.67,865.59 L213.70,865.34 L214.72,865.10 L215.75,864.85 L216.78,864.60 L217.80,864.36 L218.83,864.11 L219.85,863.86 L220.88,863.61 L221.90,863.36 L222.93,863.11 L223.95,862.86 L224.98,862.62 L226.01,862.37 L227.03,862.12 L228.06,861.87 L229.08,861.62 L230.11,861.38 L231.13,861.13 L232.16,860.89 L233.19,860.64 L234.21,860.40 L235.24,860.16 L236.26,859.92 L237.29,859.68 L238.31,859.45 L239.34,859.21 L240.37,858.98 L241.39,858.75 L242.42,858.52 L243.44,858.30 L244.47,858.08 L245.49,857.86 L246.52,857.64 L247.54,857.43 L248.57,857.22 L249.60,857.01 L250.62,856.81 L251.65,856.61 L252.67,856.42 L253.70,856.23 L254.72,856.05 L255.75,855.87 L256.78,855.69 L257.80,855.52 L258.83,855.36 L259.85,855.20 L260.88,855.05 L261.90,854.90 L262.93,854.76 L263.96,854.63 L264.98,854.51 L266.01,854.39 L267.03,854.27 L268.06,854.17 L269.08,854.07 L270.11,853.99 L271.13,853.91 L272.16,853.84 L273.19,853.77 L274.21,853.72 L275.24,853.68 L276.26,853.64 L277.29,853.62 L278.31,853.60 L279.34,853.60 L280.37,853.60 L281.39,853.62 L282.42,853.65 L283.44,853.69 L284.47,853.74 L285.49,853.80 L286.52,853.87 L287.55,853.96 L288.57,854.06 L289.60,854.17 L290.62,854.29 L291.65,854.43 L292.67,854.58 L293.70,854.74 L294.72,854.92 L295.75,855.11 L296.78,855.31 L297.80,855.53 L298.83,855.76 L299.85,856.00 L300.88,856.26 L301.90,856.53 L302.93,856.82 L303.96,857.12 L304.98,857.44 L306.01,857.77 L307.03,858.11 L308.06,858.47 L309.08,858.84 L310.11,859.23 L311.14,859.63 L312.16,860.04 L313.19,860.47 L314.21,860.91 L315.24,861.37 L316.26,861.83 L317.29,862.31 L318.31,862.80 L319.34,863.31 L320.37,863.82 L321.39,864.35 L322.42,864.89 L323.44,865.43 L324.47,865.99 L325.49,866.55 L326.52,867.13 L327.55,867.71 L328.57,868.30 L329.60,868.89 L330.62,869.49 L331.65,870.10 L332.67,870.71 L333.70,871.32 L334.73,871.93 L335.75,872.55 L336.78,873.16 L337.80,873.78 L338.83,874.39 L339.85,875.00 L340.88,875.60 L341.90,876.20 L342.93,876.79 L343.96,877.37 L344.98,877.95 L346.01,878.51 L347.03,879.06 L348.06,879.60 L349.08,880.12 L350.11,880.63 L351.14,881.11 L352.16,881.58 L353.19,882.03 L354.21,882.46 L355.24,882.87 L356.26,883.25 L357.29,883.61 L358.32,883.94 L359.34,884.25 L360.37,884.52 L361.39,884.78 L362.42,885.00 L363.44,885.20 L364.47,885.37 L365.49,885.51 L366.52,885.63 L367.55,885.72 L368.57,885.79 L369.60,885.84 L370.62,885.88 L371.65,885.89 L372.67,885.90 L373.70,885.90" fill="none" stroke="#FF0000" stroke-width="3" /><path d="M67.03,881.70 L68.06,881.61 L69.08,881.51 L70.11,881.42 L71.13,881.32 L72.16,881.23 L73.18,881.12 L74.21,881.02 L75.24,880.92 L76.26,880.81 L77.29,880.70 L78.31,880.59 L79.34,880.48 L80.36,880.36 L81.39,880.24 L82.41,880.12 L83.44,880.00 L84.47,879.88 L85.49,879.75 L86.52,879.62 L87.54,879.49 L88.57,879.35 L89.59,879.22 L90.62,879.08 L91.65,878.93 L92.67,878.79 L93.70,878.64 L94.72,878.49 L95.75,878.33 L96.77,878.18 L97.80,878.02 L98.83,877.85 L99.85,877.69 L100.88,877.52 L101.90,877.35 L102.93,877.17 L103.95,876.99 L104.98,876.81 L106.00,876.62 L107.03,876.44 L108.06,876.24 L109.08,876.05 L110.11,875.85 L111.13,875.65 L112.16,875.44 L113.18,875.23 L114.21,875.01 L115.24,874.80 L116.26,874.57 L117.29,874.35 L118.31,874.12 L119.34,873.88 L120.36,873.65 L121.39,873.40 L122.42,873.16 L123.44,872.91 L124.47,872.65 L125.49,872.39 L126.52,872.13 L127.54,871.86 L128.57,871.58 L129.59,871.31 L130.62,871.02 L131.65,870.74 L132.67,870.44 L133.70,870.15 L134.72,869.85 L135.75,869.54 L136.77,869.23 L137.80,868.91 L138.83,868.59 L139.85,868.26 L140.88,867.93 L141.90,867.59 L142.93,867.25 L143.95,866.90 L144.98,866.54 L146.01,866.18 L147.03,865.82 L148.06,865.45 L149.08,865.07 L150.11,864.69 L151.13,864.30 L152.16,863.90 L153.18,863.50 L154.21,863.10 L155.24,862.68 L156.26,862.27 L157.29,861.84 L158.31,861.41 L159.34,860.97 L160.36,860.53 L161.39,860.08 L162.42,859.63 L163.44,859.16 L164.47,858.69 L165.49,858.22 L166.52,857.74 L167.54,857.25 L168.57,856.76 L169.60,856.26 L170.62,855.75 L171.65,855.23 L172.67,854.71 L173.70,854.19 L174.72,853.65 L175.75,853.11 L176.77,852.57 L177.80,852.01 L178.83,851.45 L179.85,850.88 L180.88,850.31 L181.90,849.73 L182.93,849.14 L183.95,848.55 L184.98,847.95 L186.01,847.34 L187.03,846.73 L188.06,846.11 L189.08,845.48 L190.11,844.85 L191.13,844.21 L192.16,843.57 L193.19,842.91 L194.21,842.26 L195.24,841.59 L196.26,840.92 L197.29,840.25 L198.31,839.56 L199.34,838.88 L200.36,838.18 L201.39,837.48 L202.42,836.78 L203.44,836.07 L204.47,835.35 L205.49,834.63 L206.52,833.91 L207.54,833.18 L208.57,832.44 L209.60,831.70 L210.62,830.96 L211.65,830.21 L212.67,829.46 L213.70,828.70 L214.72,827.94 L215.75,827.18 L216.78,826.41 L217.80,825.64 L218.83,824.87 L219.85,824.10 L220.88,823.32 L221.90,822.54 L222.93,821.76 L223.95,820.98 L224.98,820.20 L226.01,819.42 L227.03,818.63 L228.06,817.85 L229.08,817.06 L230.11,816.28 L231.13,815.50 L232.16,814.72 L233.19,813.94 L234.21,813.16 L235.24,812.39 L236.26,811.62 L237.29,810.85 L238.31,810.08 L239.34,809.32 L240.37,808.57 L241.39,807.82 L242.42,807.07 L243.44,806.34 L244.47,805.61 L245.49,804.88 L246.52,804.17 L247.54,803.46 L248.57,802.76 L249.60,802.07 L250.62,801.40 L251.65,800.73 L252.67,800.07 L253.70,799.43 L254.72,798.80 L255.75,798.18 L256.78,797.58 L257.80,796.99 L258.83,796.42 L259.85,795.86 L260.88,795.32 L261.90,794.80 L262.93,794.30 L263.96,793.81 L264.98,793.35 L266.01,792.91 L267.03,792.49 L268.06,792.09 L269.08,791.71 L270.11,791.36 L271.13,791.03 L272.16,790.73 L273.19,790.45 L274.21,790.20 L275.24,789.98 L276.26,789.78 L277.29,789.62 L278.31,789.49 L279.34,789.38 L280.37,789.31 L281.39,789.28 L282.42,789.27 L283.44,789.30 L284.47,789.37 L285.49,789.47 L286.52,789.60 L287.55,789.78 L288.57,789.99 L289.60,790.24 L290.62,790.53 L291.65,790.86 L292.67,791.22 L293.70,791.64 L294.72,792.09 L295.75,792.58 L296.78,793.12 L297.80,793.70 L298.83,794.32 L299.85,794.99 L300.88,795.70 L301.90,796.46 L302.93,797.26 L303.96,798.10 L304.98,798.99 L306.01,799.93 L307.03,800.91 L308.06,801.94 L309.08,803.01 L310.11,804.12 L311.14,805.28 L312.16,806.49 L313.19,807.73 L314.21,809.02 L315.24,810.35 L316.26,811.73 L317.29,813.14 L318.31,814.60 L319.34,816.09 L320.37,817.62 L321.39,819.19 L322.42,820.80 L323.44,822.43 L324.47,824.10 L325.49,825.80 L326.52,827.53 L327.55,829.28 L328.57,831.06 L329.60,832.86 L330.62,834.68 L331.65,836.52 L332.67,838.38 L333.70,840.24 L334.73,842.11 L335.75,843.99 L336.78,845.88 L337.80,847.76 L338.83,849.64 L339.85,851.51 L340.88,853.37 L341.90,855.22 L342.93,857.04 L343.96,858.85 L344.98,860.63 L346.01,862.37 L347.03,864.09 L348.06,865.76 L349.08,867.39 L350.11,868.97 L351.14,870.50 L352.16,871.98 L353.19,873.40 L354.21,874.75 L355.24,876.03 L356.26,877.25 L357.29,878.39 L358.32,879.45 L359.34,880.44 L360.37,881.34 L361.39,882.15 L362.42,882.89 L363.44,883.53 L364.47,884.09 L365.49,884.57 L366.52,884.96 L367.55,885.28 L368.57,885.52 L369.60,885.69 L370.62,885.81 L371.65,885.87 L372.67,885.90 L373.70,885.90" fill="none" stroke="#FF0000" stroke-width="3" stroke-dasharray="2.7 2.5"/></g>
<rect x="67.4" y="460.5" width="920.0" height="425.4" fill="none" stroke="#555555" stroke-width="1"/>
<line x1="220.4" y1="885.9" x2="220.4" y2="876.4" stroke="#555555" stroke-width="1"/>
<line x1="220.4" y1="460.5" x2="220.4" y2="470.0" stroke="#555555" stroke-width="1"/>
<line x1="373.7" y1="885.9" x2="373.7" y2="876.4" stroke="#555555" stroke-width="1"/>
<line x1="373.7" y1="460.5" x2="373.7" y2="470.0" stroke="#555555" stroke-width="1"/>
<line x1="527.0" y1="885.9" x2="527.0" y2="876.4" stroke="#555555" stroke-width="1"/>
<line x1="527.0" y1="460.5" x2="527.0" y2="470.0" stroke="#555555" stroke-width="1"/>
<line x1="680.4" y1="885.9" x2="680.4" y2="876.4" stroke="#555555" stroke-width="1"/>
<line x1="680.4" y1="460.5" x2="680.4" y2="470.0" stroke="#555555" stroke-width="1"/>
<line x1="833.7" y1="885.9" x2="833.7" y2="876.4" stroke="#555555" stroke-width="1"/>
<line x1="833.7" y1="460.5" x2="833.7" y2="470.0" stroke="#555555" stroke-width="1"/>
<text x="67.0" y="919.5" text-anchor="middle" font-family="Liberation Sans, Arial, sans-serif" font-size="26" fill="#262626" stroke="#262626" stroke-width="0.25">-10</text>
<text x="220.4" y="919.5" text-anchor="middle" font-family="Liberation Sans, Arial, sans-serif" font-size="26" fill="#262626" stroke="#262626" stroke-width="0.25">-5</text>
<text x="373.7" y="919.5" text-anchor="middle" font-family="Liberation Sans, Arial, sans-serif" font-size="26" fill="#262626" stroke="#262626" stroke-width="0.25">0</text>
<text x="527.0" y="919.5" text-anchor="middle" font-family="Liberation Sans, Arial, sans-serif" font-size="26" fill="#262626" stroke="#262626" stroke-width="0.25">5</text>
<text x="680.4" y="919.5" text-anchor="middle" font-family="Liberation Sans, Arial, sans-serif" font-size="26" fill="#262626" stroke="#262626" stroke-width="0.25">10</text>
<text x="833.7" y="919.5" text-anchor="middle" font-family="Liberation Sans, Arial, sans-serif" font-size="26" fill="#262626" stroke="#262626" stroke-width="0.25">15</text>
<text x="987.0" y="919.5" text-anchor="middle" font-family="Liberation Sans, Arial, sans-serif" font-size="26" fill="#262626" stroke="#262626" stroke-width="0.25">20</text>
<text x="526.5" y="951.5" text-anchor="middle" font-family="Liberation Sans, Arial, sans-serif" font-size="28.3" fill="#262626" stroke="#262626" stroke-width="0.25">Saccade length [char]</text>
<text transform="translate(53.5,672) rotate(-90)" x="0" y="0" text-anchor="middle" font-family="Liberation Sans, Arial, sans-serif" font-size="28.3" fill="#262626" stroke="#262626" stroke-width="0.25">Relative frequency</text>
<rect x="80.2" y="473.1" width="339.9" height="116.8" fill="#fff" stroke="#888" stroke-width="1.5"/>
<line x1="85" y1="489.4" x2="124" y2="489.4" stroke="#0000FF" stroke-width="3" />
<text x="127.5" y="499.0" font-family="Liberation Sans, Arial, sans-serif" font-size="23.2" fill="#000" stroke="#000" stroke-width="0.2">Forward saccades</text>
<line x1="85" y1="517.4" x2="124" y2="517.4" stroke="#FF0000" stroke-width="3" />
<text x="127.5" y="527.0" font-family="Liberation Sans, Arial, sans-serif" font-size="23.2" fill="#000" stroke="#000" stroke-width="0.2">Regressions</text>
<line x1="85" y1="545.6" x2="124" y2="545.6" stroke="#0000FF" stroke-width="3" stroke-dasharray="10.4 10.4"/>
<text x="127.5" y="555.2" font-family="Liberation Sans, Arial, sans-serif" font-size="23.2" fill="#000" stroke="#000" stroke-width="0.2">Shorter saccades (all)</text>
<line x1="85" y1="573.8" x2="124" y2="573.8" stroke="#FF0000" stroke-width="3" stroke-dasharray="3 3"/>
<text x="127.5" y="583.4" font-family="Liberation Sans, Arial, sans-serif" font-size="23.2" fill="#000" stroke="#000" stroke-width="0.2">More Regressions (mW, iW)</text>
</svg>
</body></html>
